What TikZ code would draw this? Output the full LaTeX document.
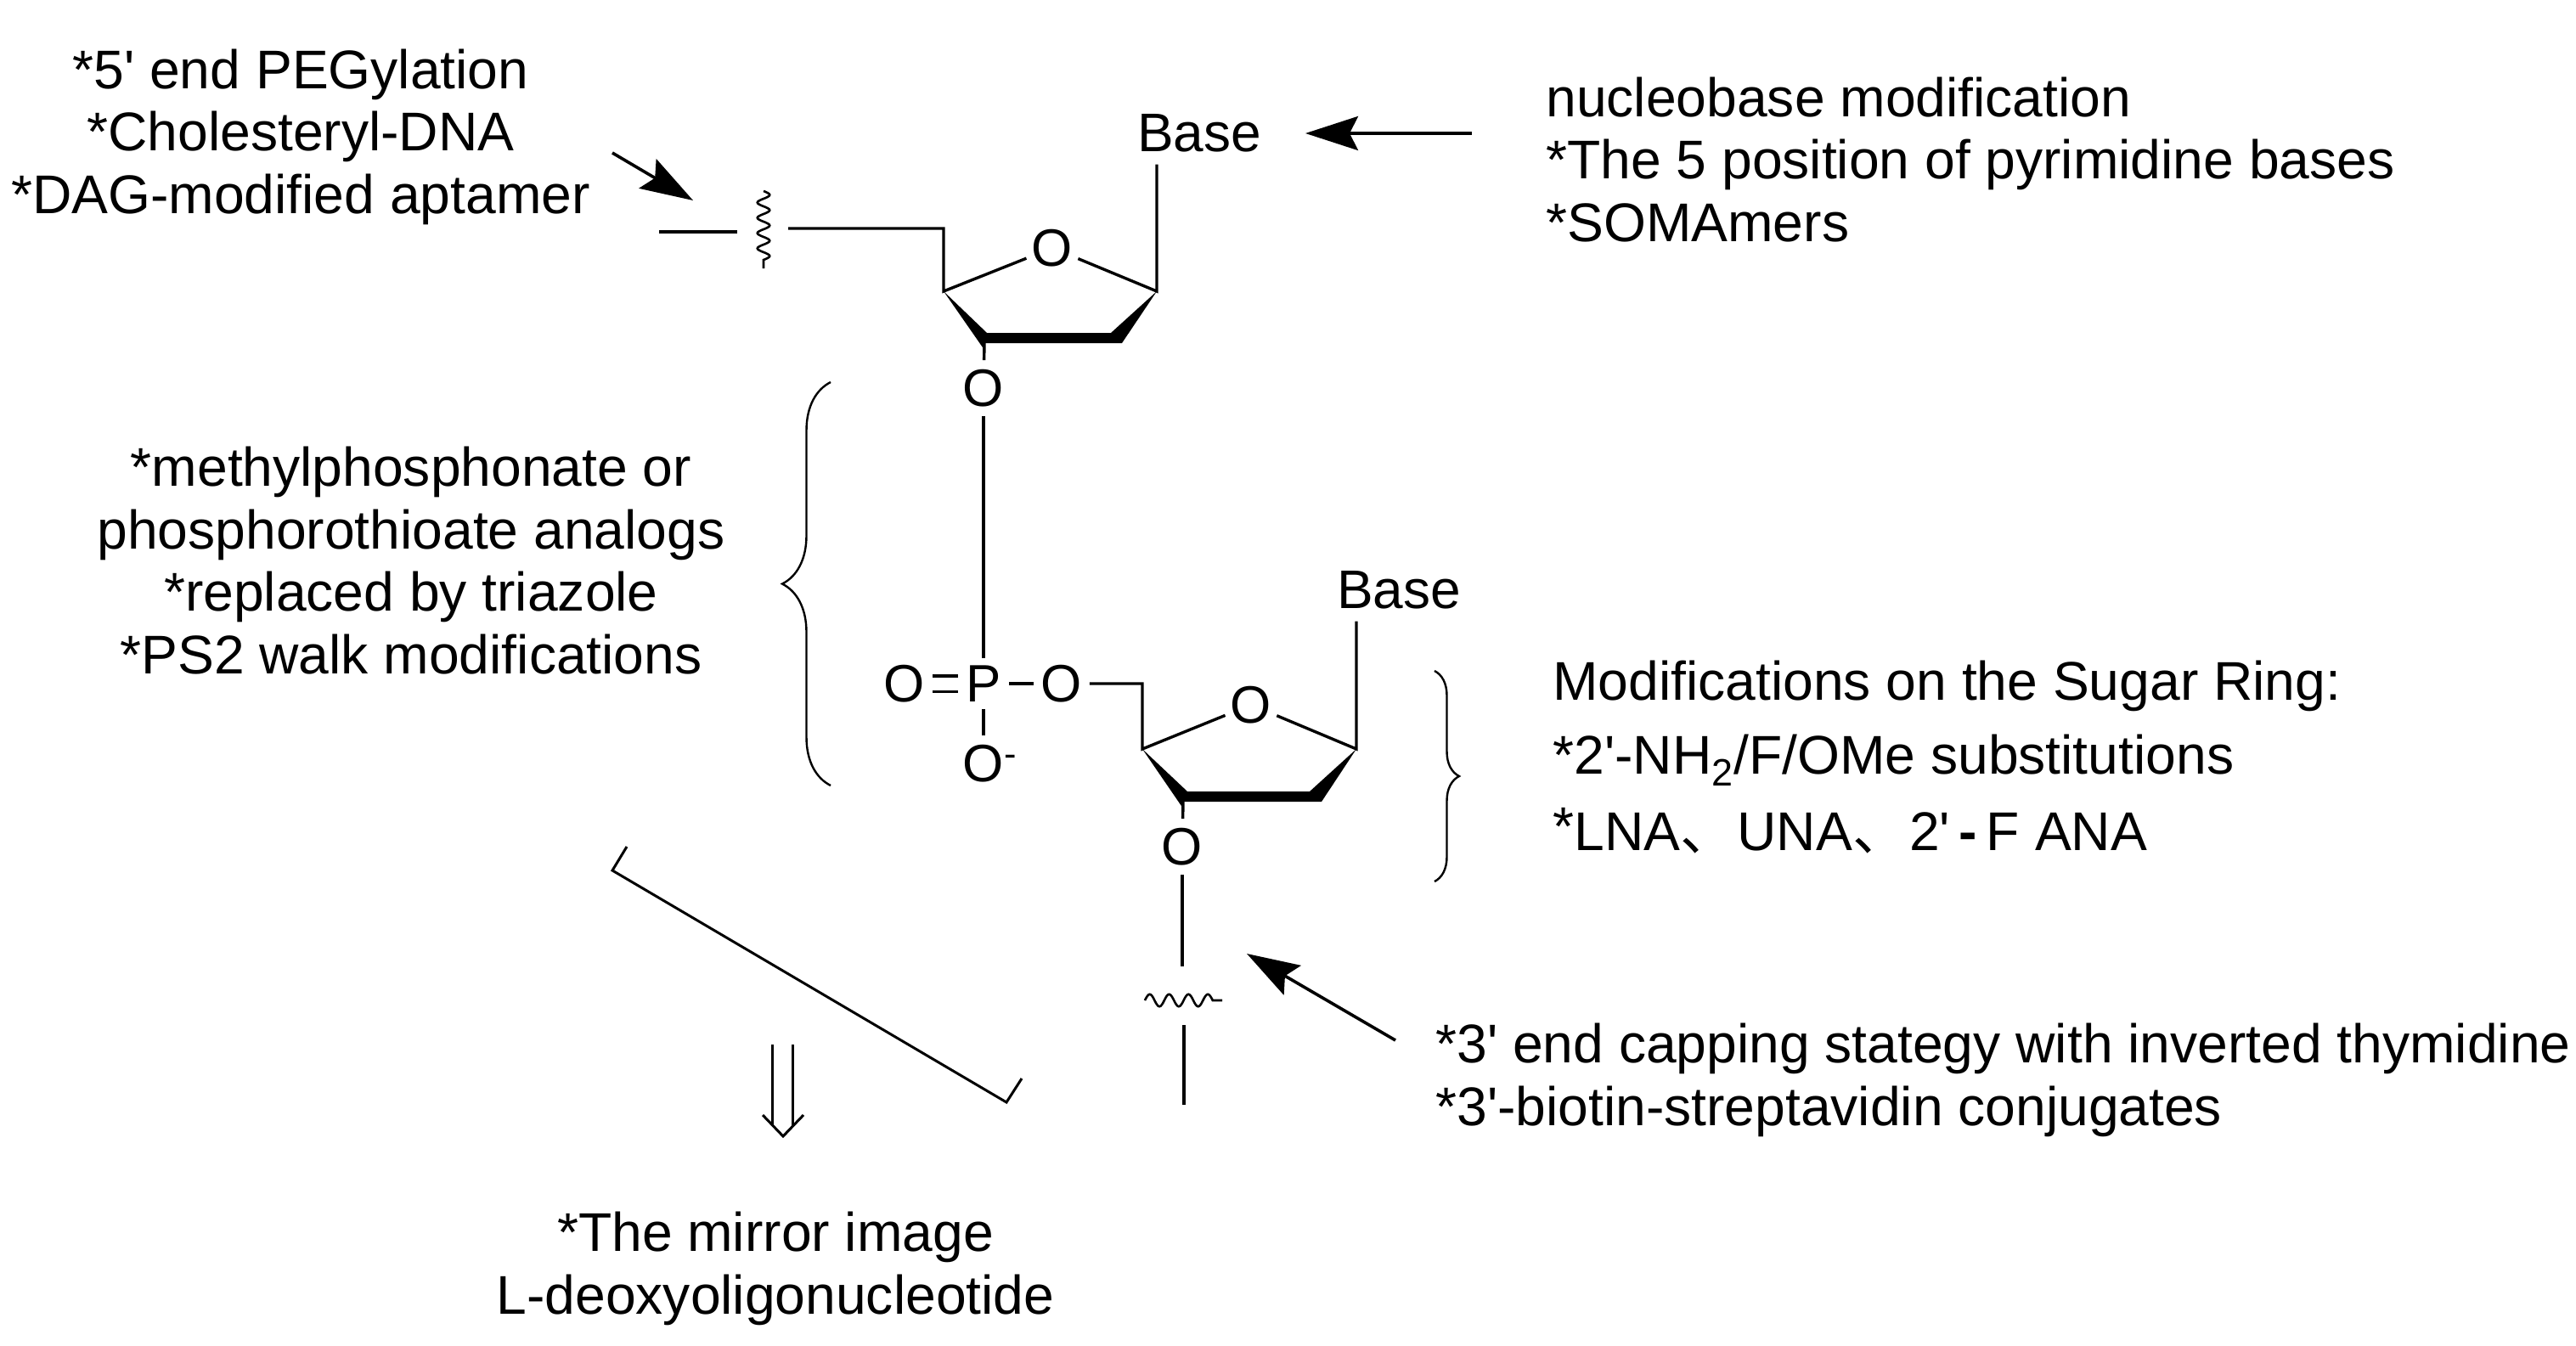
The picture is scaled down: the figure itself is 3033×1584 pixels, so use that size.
\documentclass[tikz,border=0pt]{standalone}
\usepackage{fontspec}
\setmainfont{Liberation Sans}
\newfontfamily\cjk{Noto Sans CJK SC}
\newcommand{\prm}{\textquotesingle}
\usetikzlibrary{arrows.meta, decorations.pathmorphing, decorations.pathreplacing}

\begin{document}
\begin{tikzpicture}[x=0.5pt, y=-0.5pt,
txt/.style={inner sep=0pt, font=\fontsize{32.1}{36.8}\selectfont},
atom/.style={circle, inner sep=0pt, font=\fontsize{31}{36.8}\selectfont},
base/.style={inner xsep=0pt, inner ysep=7pt, font=\fontsize{32}{36.8}\selectfont},
bond/.style={line width=1.7pt},
wavy/.style={line width=1.3pt, decorate, decoration={coil, aspect=0, amplitude=3.6pt}},
pointer/.style={line width=1.8pt, -{Stealth[length=31pt, width=20pt, inset=5pt]}},
curly/.style={line width=1.2pt, decorate, decoration={brace, aspect=0.5}},
rule/.style={line width=1.5pt}]
\useasboundingbox (0,0) rectangle (3033,1584);

%upper sugar
\coordinate (c4a) at (1111,343);
\coordinate (c1a) at (1362,343);
\coordinate (c3a) at (1162,392);
\coordinate (c2a) at (1308,392);
\coordinate (c3b) at (1159,412);
\coordinate (c3c) at (1159,404);
\coordinate (c2b) at (1321,404);
\coordinate (ch2a) at (1111,269);
\coordinate (cuta) at (928,269);
\coordinate (enda) at (776,273);
\coordinate (stopa) at (868,273);
\coordinate (wava) at (899,225);
\coordinate (wavb) at (899,316);
\node [atom] (oa) at (1239,292) {O};
\node [atom] (ob) at (1158,457) {O};
\node [base] (basea) at (1412,157) {Base};
\draw [bond] (cuta) -- (ch2a) -- (c4a) -- (oa) -- (c1a) -- (c1a |- basea.south);
\draw [bond] (enda) -- (stopa);
\draw [wavy, decoration={segment length=9pt}] (wava) -- (wavb);
\fill (c4a) -- (c3a) -- (c2a) -- (c1a) -- (c2b) -- (c3c) -- (c3b) -- cycle;
\draw [bond] (c3c) -- (ob);

%phosphate
\node [atom] (p) at (1158,805) {P};
\node [atom] (oc) at (1065,805) {O};
\node [atom] (od) at (1250,805) {O};
\node [atom] (oe) at (1158,899) {O\rlap{\textsuperscript{-}}};
\draw [bond] (ob) -- (p);
\draw [bond] (p) -- (od);
\draw [bond] (p) -- (oe);
\draw [bond, double, double distance=7.5pt] (oc) -- (p);

%lower sugar
\coordinate (c4d) at (1345,882);
\coordinate (c1d) at (1597,882);
\coordinate (c3d) at (1398,932);
\coordinate (c2d) at (1542,932);
\coordinate (c3e) at (1393,952);
\coordinate (c3f) at (1393,944);
\coordinate (c2e) at (1556,944);
\coordinate (ch2d) at (1345,805);
\coordinate (cutd) at (1394,1138);
\coordinate (endd) at (1394,1301);
\coordinate (stopd) at (1394,1207);
\coordinate (wavc) at (1348,1178);
\coordinate (wavd) at (1439,1178);
\node [atom] (of) at (1473,830) {O};
\node [atom] (og) at (1392,997) {O};
\node [base] (based) at (1647,695) {Base};
\draw [bond] (od) -- (ch2d) -- (c4d) -- (of) -- (c1d) -- (c1d |- based.south);
\fill (c4d) -- (c3d) -- (c2d) -- (c1d) -- (c2e) -- (c3f) -- (c3e) -- cycle;
\draw [bond] (c3f) -- (og);
\draw [bond] (og) -- (og |- cutd);
\draw [bond] (stopd) -- (endd);
\draw [wavy, decoration={segment length=11.4pt}] (wavc) -- (wavd);

%arrows
\coordinate (tailtl) at (721,180);
\coordinate (tiptl) at (816,236);
\coordinate (tailtr) at (1733,157);
\coordinate (tiptr) at (1537,157);
\coordinate (tailbr) at (1643,1225);
\coordinate (tipbr) at (1468,1123);
\draw [pointer] (tailtl) -- (tiptl);
\draw [pointer] (tailtr) -- (tiptr);
\draw [pointer] (tailbr) -- (tipbr);

%braces
\coordinate (bracea) at (978,925);
\coordinate (braceb) at (978,450);
\coordinate (bracec) at (1689,790);
\coordinate (braced) at (1689,1038);
\draw [curly, decoration={amplitude=28.5pt}] (bracea) -- (braceb);
\draw [curly, decoration={amplitude=14.5pt}] (bracec) -- (braced);

%mirror bar
\coordinate (bara) at (738,997);
\coordinate (barb) at (721,1025);
\coordinate (barc) at (1185,1298);
\coordinate (bard) at (1203,1270);
\draw [rule] (bara) -- (barb) -- (barc) -- (bard);
\coordinate (dbla) at (909,1230);
\coordinate (dblb) at (909,1326);
\coordinate (dblc) at (933,1230);
\coordinate (dbld) at (933,1326);
\coordinate (heada) at (898,1313);
\coordinate (headb) at (922,1338);
\coordinate (headc) at (946,1313);
\draw [rule] (dbla) -- (dblb);
\draw [rule] (dblc) -- (dbld);
\draw [rule] (heada) -- (headb) -- (headc);

%labels
\node [txt, align=center] (lab5) at (354,161) {*5\prm{} end PEGylation\\*Cholesteryl-DNA\\*DAG-modified aptamer};
\node [txt, align=left, anchor=west] (labbase) at (1820,188) {nucleobase modification\\*The 5 position of pyrimidine bases\\*SOMAmers};
\node [txt, align=center] (labphos) at (484,660) {*methylphosphonate or\\phosphorothioate analogs\\*replaced by triazole\\*PS2 walk modifications};
\node [txt, anchor=west] (labsuga) at (1828,808) {Modifications on the Sugar Ring:};
\node [txt, anchor=west] (labsugb) at (1828,895) {*2\prm-NH\textsubscript{2}/F/OMe substitutions};
\node [txt, anchor=west] (labsugc) at (1828,978) {\raisebox{3pt}{*}LNA{\cjk 、}\kern1.5pt UNA{\cjk 、}\kern1.5pt 2\prm\,\textbf{-}\,F ANA};
\node [txt, align=left, anchor=west] (lab3) at (1690,1272) {*3\prm{} end capping stategy with inverted thymidine\\*3\prm-biotin-streptavidin conjugates};
\node [txt, align=center] (labmir) at (913,1494) {*The mirror image\\L-deoxyoligonucleotide};
\end{tikzpicture}
\end{document}
